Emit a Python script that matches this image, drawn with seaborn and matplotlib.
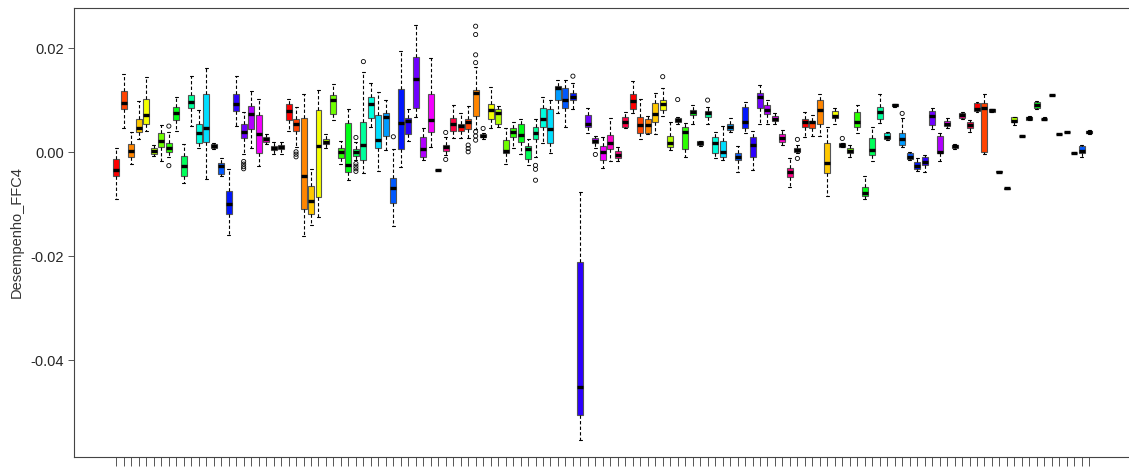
import numpy as np
import pandas as pd
import matplotlib
matplotlib.use("Agg")
import matplotlib.pyplot as plt
import seaborn as sns
from matplotlib.colors import hsv_to_rgb

# ---------------- data (values in units of 0.001) ----------------
UNIT = 0.001
groups = [str(i) for i in range(1, 132)]

wlo = [-9.1, 4.7, -2.3, 2.6, 4.0, -0.77, -1.8, -0.9, 4.04, -6.03,
       5.06, 0.7, -5.26, 0.6, -4.6, -15.96, 5.0, -0.3, 0.7, -2.63,
       1.54, -0.45, -0.38, 4.04, 1.03, -16.15, -14.0, -12.44, 0.83, 6.15,
       -2.3, -5.45, -1.5, -3.97, 4.87, -3.6, 0.38, -14.2, -2.82, 2.2,
       6.8, -1.54, 0.9, -3.5, -0.58, 2.63, 2.63, 2.7, 4.5, 2.6,
       4.68, 4.87, -2.3, 0.7, -0.38, -2.5, -0.9, 1.8, -0.26, 7.56,
       4.87, 8.2, -55.4, 3.7, 0.7, -3.14, -1.73, -1.73, 4.55, 7.5,
       2.44, 3.46, 3.46, 6.9, 0.38, 5.5, -1.03, 5.5, 1.15, 5.5,
       -1.22, -1.54, 3.9, -3.78, 3.6, -3.46, 5.5, 5.5, 5.5, 1.35,
       -6.67, -0.2, 2.82, 3.08, 3.08, -8.46, 5.32, 0.9, -1.03, 3.72,
       -9.1, -1.67, 5.6, 2.3, 8.7, 0.9, -1.6, -3.6, -3.78, 4.36,
       -1.67, 4.7, 0.6, 6.3, 3.9, 7.7, -0.45, 7.7, -3.9, -7.1,
       5.2, 3.05, 6.1, 8.3, 6.25, 10.95, 3.4, 3.8, -0.2, -0.9, 3.5]

q1 = [-4.6, 8.2, -1.03, 3.8, 5.4, -0.32, 1.03, -0.06, 6.15, -4.55,
      8.4, 1.67, 2.0, 0.85, -4.3, -11.9, 7.9, 2.63, 4.36, -0.13,
      1.92, 0.38, 0.51, 6.09, 3.97, -11.0, -11.8, -8.65, 1.6, 7.37,
      -1.09, -3.78, -0.77, -1.6, 6.6, 0.7, 3.14, -9.74, 0.51, 3.46,
      8.53, -0.96, 3.78, -3.45, 0.19, 4.1, 4.04, 4.36, 6.9, 2.82,
      6.4, 5.38, -0.26, 2.95, 1.99, -1.41, 2.44, 4.87, 1.67, 10.0,
      8.53, 10.0, -50.6, 4.87, 1.67, -1.54, 0.51, -1.22, 4.87, 8.27,
      3.72, 3.72, 5.77, 8.08, 1.03, 5.7, 0.51, 7.05, 1.28, 6.8,
      -0.13, -0.9, 4.23, -1.54, 4.68, -1.03, 8.53, 7.3, 5.96, 1.86,
      -4.87, 0.06, 4.75, 4.55, 5.5, -4.1, 6.6, 1.03, -0.26, 4.75,
      -8.46, -0.58, 6.35, 2.44, 8.78, 1.35, -1.41, -3.33, -2.5, 5.2,
      -0.26, 5.0, 0.77, 6.47, 4.55, 7.9, 0.06, 7.75, -3.85, -7.05,
      5.7, 3.1, 6.2, 8.4, 6.3, 10.98, 3.43, 3.83, -0.15, -0.13, 3.7]

med = [-3.4, 9.4, 0.19, 4.7, 7.1, 0.19, 2.2, 0.7, 7.56, -2.63,
       9.7, 3.6, 4.68, 1.15, -2.63, -10.0, 9.17, 3.9, 7.24, 3.46,
       2.5, 0.83, 0.9, 7.95, 5.38, -4.6, -9.4, 1.15, 1.99, 10.0,
       0.0, -2.44, -0.06, 1.35, 9.2, 2.37, 6.73, -6.86, 5.58, 6.0,
       14.0, 0.58, 6.15, -3.4, 0.9, 5.32, 5.0, 5.77, 11.3, 3.08,
       8.08, 7.56, 0.13, 3.9, 3.27, 0.64, 3.72, 6.4, 4.49, 12.25,
       10.0, 10.5, -45.2, 5.5, 2.18, 0.06, 1.67, -0.58, 5.7, 9.87,
       5.2, 5.13, 7.3, 9.17, 1.67, 6.15, 3.9, 7.63, 1.73, 7.44,
       1.8, 0.06, 4.87, -0.9, 5.7, 1.35, 10.5, 8.08, 6.4, 2.76,
       -3.9, 0.38, 5.7, 5.77, 8.08, -2.05, 6.92, 1.35, 0.26, 5.77,
       -7.95, 0.38, 7.63, 3.0, 9.04, 2.56, -1.03, -2.7, -1.86, 6.92,
       0.06, 5.5, 1.09, 7.05, 5.2, 8.27, 8.4, 8.08, -3.78, -6.99,
       6.03, 3.14, 6.5, 9.04, 6.35, 11.0, 3.46, 3.85, -0.13, 0.26, 3.85]

q3 = [-1.41, 11.7, 1.54, 6.4, 10.2, 0.7, 3.65, 1.67, 8.6, -0.77,
      10.96, 5.38, 11.15, 1.5, -2.18, -7.44, 11.15, 5.38, 8.9, 7.05,
      2.95, 1.22, 1.28, 9.17, 6.35, 6.54, -6.47, 8.0, 2.5, 10.9,
      0.77, 5.58, 0.51, 5.77, 10.6, 7.18, 7.56, -5.06, 12.2, 6.54,
      18.2, 2.82, 11.15, -3.35, 1.35, 6.47, 5.38, 6.35, 11.9, 3.4,
      9.17, 8.2, 2.3, 4.68, 5.32, 1.09, 4.87, 8.53, 8.2, 12.75,
      12.25, 11.3, -21.2, 7.1, 2.63, 1.15, 3.27, 0.26, 6.67, 11.15,
      6.67, 6.35, 9.5, 10.0, 3.08, 6.6, 4.75, 8.08, 2.1, 7.95,
      2.82, 2.1, 5.32, -0.13, 8.7, 2.82, 11.3, 9.04, 6.92, 3.46,
      -3.14, 0.7, 6.28, 6.03, 10.0, 1.67, 7.95, 1.67, 0.7, 7.75,
      -6.67, 2.63, 8.7, 3.6, 9.2, 3.72, -0.26, -1.86, -1.03, 7.95,
      3.08, 6.03, 1.41, 7.56, 5.83, 9.36, 9.5, 8.27, -3.7, -6.9,
      6.67, 3.18, 6.8, 9.67, 6.45, 11.02, 3.5, 3.9, -0.1, 1.15, 4.0]

whi = [0.83, 15.1, 3.9, 9.9, 14.4, 1.28, 5.25, 3.85, 10.6, 1.6,
       14.7, 8.0, 16.1, 1.7, -1.22, -3.2, 14.7, 7.76, 11.8, 10.3,
       3.46, 1.99, 1.99, 10.26, 8.6, 11.15, -3.2, 11.9, 3.4, 13.0,
       2.1, 8.33, 1.99, 15.4, 13.3, 11.5, 10.0, 0.51, 19.5, 8.33,
       24.4, 4.55, 18.1, -3.3, 2.95, 9.04, 7.44, 8.85, 16.3, 3.6,
       12.6, 8.85, 4.68, 5.83, 6.28, 2.44, 6.28, 10.6, 10.0, 13.8,
       13.8, 13.3, -7.7, 8.4, 3.08, 2.82, 6.47, 0.9, 7.75, 13.7,
       10.3, 7.0, 11.3, 12.4, 5.83, 6.8, 5.64, 9.04, 2.2, 8.7,
       3.9, 5.0, 6.47, 1.15, 9.67, 4.1, 12.9, 10.1, 7.44, 4.23,
       -1.22, 1.35, 7.75, 7.05, 11.1, 4.87, 8.53, 1.8, 1.35, 9.04,
       -4.6, 4.87, 11.15, 3.8, 9.3, 6.47, 0.0, -1.09, -0.58, 8.53,
       3.72, 6.5, 1.5, 7.8, 6.15, 9.6, 11.1, 8.35, -3.65, -6.85,
       6.8, 3.2, 6.9, 9.8, 6.7, 11.05, 3.52, 3.95, -0.05, 1.3, 4.2]

out_group = [8, 8, 18, 18, 18, 18, 25, 25, 25, 33, 33, 33, 33, 33, 34, 38,
             45, 45, 48, 48, 48, 49, 49, 49, 49, 49, 49, 49, 50, 57, 57, 57,
             62, 65, 74, 76, 80, 92, 92, 98, 106]
out_value = [5.0, -2.6, -1.8, -2.3, -2.8, -3.2, 0.06, -0.4, -0.9,
             2.82, -2.2, -2.7, -3.2, -3.7, 17.4, 2.95,
             3.78, -1.41, 1.35, 0.7, 0.06, 24.2, 22.6, 18.7, 17.2, 3.9, 3.1, 2.3,
             4.55, -2.55, -3.3, -5.4, 14.6, -0.45, 14.5, 10.1, 10.0, 2.44, -1.22,
             2.63, 7.44]

ytick_vals = [-0.04, -0.02, 0.00, 0.02]
ytick_labels = ["-0.04", "-0.02", "0.00", "0.02"]
ylabel = "Desempenho_FFC4"

# ---------------- build long-form table ----------------
rows = []
for k, g in enumerate(groups):
    for v in (wlo[k], q1[k], med[k], q3[k], whi[k]):
        rows.append((g, v * UNIT))
df = pd.DataFrame(rows, columns=["group", "value"])

ncol = 23
base_cols = [tuple(hsv_to_rgb((h / ncol, 1.0, 1.0))) for h in range(ncol)]
palette = {g: base_cols[k % ncol] for k, g in enumerate(groups)}

sns.set_style("white")
plt.rcParams["font.family"] = ["Liberation Sans", "DejaVu Sans"]

W, H = 1129, 473
fig = plt.figure(figsize=(W / 100, H / 100), dpi=100)
ax = fig.add_axes([73.5 / W, 16 / H, 1058.7 / W, 449 / H])

sns.boxplot(data=df, x="group", y="value", hue="group", order=groups,
            hue_order=groups, palette=palette, legend=False,
            whis=(0, 100), width=0.8, saturation=1, linewidth=0.8,
            linecolor="#555555", showfliers=False,
            medianprops=dict(color="black", linewidth=2.4, solid_capstyle="butt"),
            whiskerprops=dict(color="black", linewidth=0.8, linestyle=(0, (3, 2))),
            capprops=dict(color="black", linewidth=0.8),
            ax=ax)

pos = [groups.index(str(g)) for g in out_group]
ax.scatter(pos, [v * UNIT for v in out_value], s=9, facecolors="none",
           edgecolors="black", linewidths=0.6, zorder=5)

ax.set_xlim(-5.74, 135.74)
ax.set_ylim(-0.0586, 0.0277)
ax.set_xticks(range(len(groups)))
ax.set_xticklabels([])
ax.set_yticks(ytick_vals)
ax.set_yticklabels(ytick_labels, fontsize=10.5)
ax.set_xlabel("")
ax.set_ylabel("")
ax.tick_params(axis="x", length=6.5, width=0.7, color="#555555", direction="out", bottom=True)
ax.tick_params(axis="y", length=4.5, width=0.7, color="#555555", direction="out", left=True, pad=2.5)
for side in ["left", "top", "bottom", "right"]:
    ax.spines[side].set_visible(True)
    ax.spines[side].set_color("#444444")
    ax.spines[side].set_linewidth(0.8)

fig.text(17 / W, 1 - 232.5 / H, ylabel, rotation=90, ha="center", va="center",
         fontsize=10.5, color="#333333")

fig.savefig("out.png", dpi=100)
